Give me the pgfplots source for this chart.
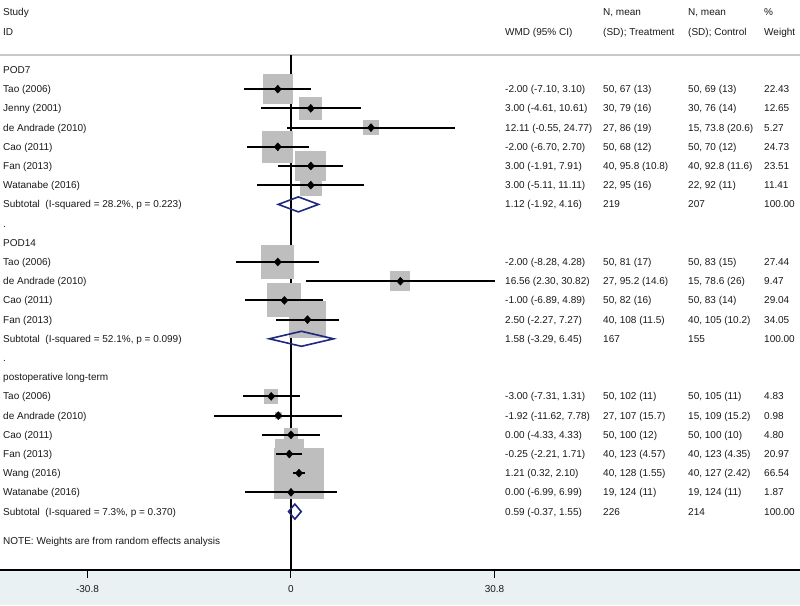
\documentclass[border=0pt]{standalone}
\usepackage{pgfplots}
\pgfplotsset{compat=1.18}
\usepackage{pgfplotstable}
\usepackage{fontspec}
\setmainfont{Liberation Sans}
\definecolor{boxgray}{RGB}{190,190,190}
\definecolor{dnavy}{RGB}{30,40,125}
\definecolor{band}{RGB}{233,241,243}
\definecolor{txt}{RGB}{25,25,25}
\definecolor{hline}{RGB}{200,200,200}

% x = WMD, lo/hi = 95% CI, y = -row position (px), w = % weight
\pgfplotstableread{
x      lo      hi     y       w
-2.00  -7.10   3.10   -89.2   22.43
3.00   -4.61   10.61  -108.4  12.65
12.11  -0.55   24.77  -127.6  5.27
-2.00  -6.70   2.70   -146.8  24.73
3.00   -1.91   7.91   -166.0  23.51
3.00   -5.11   11.11  -185.2  11.41
-2.00  -8.28   4.28   -262.0  27.44
16.56  2.30    30.82  -281.2  9.47
-1.00  -6.89   4.89   -300.4  29.04
2.50   -2.27   7.27   -319.6  34.05
-3.00  -7.31   1.31   -396.4  4.83
-1.92  -11.62  7.78   -415.6  0.98
0.00   -4.33   4.33   -434.8  4.80
-0.25  -2.21   1.71   -454.0  20.97
1.21   0.32    2.10   -473.2  66.54
0.00   -6.99   6.99   -492.4  1.87
}\studies

\newcommand\rowtext[6]{%
  \node[anchor=base west,inner sep=0pt,text=txt] at (3pt,{(566.4-#1)*1pt}) {#2};
  \node[anchor=base west,inner sep=0pt,text=txt] at (505pt,{(566.4-#1)*1pt}) {#3};
  \node[anchor=base west,inner sep=0pt,text=txt] at (603pt,{(566.4-#1)*1pt}) {#4};
  \node[anchor=base west,inner sep=0pt,text=txt] at (688pt,{(566.4-#1)*1pt}) {#5};
  \node[anchor=base west,inner sep=0pt,text=txt] at (764pt,{(566.4-#1)*1pt}) {#6};
}

\begin{document}
\begin{tikzpicture}[font=\fontsize{10}{12}\selectfont]
% background band below the axis line
\fill[band] (0pt,-0.6pt) rectangle (800pt,-35pt);
\begin{axis}[
  width=800pt, height=570pt, scale only axis,
  xmin=-44.04, xmax=77.04, ymin=-570, ymax=0,
  axis x line*=bottom, axis y line=none,
  axis line style={-, line width=1.2pt, black},
  xtick={-30.8,0,30.8}, xticklabels={-30.8,0,30.8},
  tick align=outside, major tick length=8pt,
  every tick/.style={black, line width=1pt},
  xticklabel style={font=\fontsize{10}{12}\selectfont, text=txt, yshift=-4pt},
  clip=false, clip marker paths=true,
]
% header separator
\addplot[hline, line width=1.4pt] coordinates {(-44.04,-55) (77.04,-55)};
% null line (drawn beneath the boxes)
\addplot[black, line width=1.3pt] coordinates {(0,-55) (0,-570)};
% weight boxes (side proportional to sqrt of weight)
\addplot[scatter, only marks, mark=square*,
  scatter/use mapped color={draw=boxgray, fill=boxgray, line width=0pt},
  visualization depends on={3.06*sqrt(\thisrow{w}) \as \boxsz},
  scatter/@pre marker code/.append style={/tikz/mark size=\boxsz}]
  table[x=x, y=y]{\studies};
% confidence intervals
\addplot[draw=none, mark=none,
  error bars/.cd, x dir=both, x explicit, error mark=none,
  error bar style={line width=1.9pt, black}]
  table[x=x, y=y, x error plus expr=\thisrow{hi}-\thisrow{x}, x error minus expr=\thisrow{x}-\thisrow{lo}]{\studies};
% point estimates
\addplot[only marks, mark=diamond*, mark size=4, black, mark options={xscale=1.2}] table[x=x, y=y]{\studies};
% subtotal diamonds
\addplot[dnavy, line width=1.6pt, line join=miter] coordinates {(-1.92,-204.4) (1.12,-196.9) (4.16,-204.4) (1.12,-211.9)} -- cycle;
\addplot[dnavy, line width=1.6pt, line join=miter] coordinates {(-3.29,-338.8) (1.58,-331.3) (6.45,-338.8) (1.58,-346.3)} -- cycle;
\addplot[dnavy, line width=1.6pt, line join=miter] coordinates {(-0.37,-511.6) (0.59,-504.1) (1.55,-511.6) (0.59,-519.1)} -- cycle;
\end{axis}

% header
\rowtext{12}{Study}{}{N, mean}{N, mean}{\%}
\rowtext{31.5}{ID}{WMD (95\% CI)}{(SD); Treatment}{(SD); Control}{Weight}
% POD7
\rowtext{70}{POD7}{}{}{}{}
\rowtext{89.2}{Tao (2006)}{-2.00 (-7.10, 3.10)}{50, 67 (13)}{50, 69 (13)}{22.43}
\rowtext{108.4}{Jenny (2001)}{3.00 (-4.61, 10.61)}{30, 79 (16)}{30, 76 (14)}{12.65}
\rowtext{127.6}{de Andrade (2010)}{12.11 (-0.55, 24.77)}{27, 86 (19)}{15, 73.8 (20.6)}{5.27}
\rowtext{146.8}{Cao (2011)}{-2.00 (-6.70, 2.70)}{50, 68 (12)}{50, 70 (12)}{24.73}
\rowtext{166.0}{Fan (2013)}{3.00 (-1.91, 7.91)}{40, 95.8 (10.8)}{40, 92.8 (11.6)}{23.51}
\rowtext{185.2}{Watanabe (2016)}{3.00 (-5.11, 11.11)}{22, 95 (16)}{22, 92 (11)}{11.41}
\rowtext{204.4}{Subtotal\ \ (I-squared = 28.2\%, p = 0.223)}{1.12 (-1.92, 4.16)}{219}{207}{100.00}
\rowtext{223.6}{.}{}{}{}{}
% POD14
\rowtext{242.8}{POD14}{}{}{}{}
\rowtext{262.0}{Tao (2006)}{-2.00 (-8.28, 4.28)}{50, 81 (17)}{50, 83 (15)}{27.44}
\rowtext{281.2}{de Andrade (2010)}{16.56 (2.30, 30.82)}{27, 95.2 (14.6)}{15, 78.6 (26)}{9.47}
\rowtext{300.4}{Cao (2011)}{-1.00 (-6.89, 4.89)}{50, 82 (16)}{50, 83 (14)}{29.04}
\rowtext{319.6}{Fan (2013)}{2.50 (-2.27, 7.27)}{40, 108 (11.5)}{40, 105 (10.2)}{34.05}
\rowtext{338.8}{Subtotal\ \ (I-squared = 52.1\%, p = 0.099)}{1.58 (-3.29, 6.45)}{167}{155}{100.00}
\rowtext{358.0}{.}{}{}{}{}
% postoperative long-term
\rowtext{377.2}{postoperative long-term}{}{}{}{}
\rowtext{396.4}{Tao (2006)}{-3.00 (-7.31, 1.31)}{50, 102 (11)}{50, 105 (11)}{4.83}
\rowtext{415.6}{de Andrade (2010)}{-1.92 (-11.62, 7.78)}{27, 107 (15.7)}{15, 109 (15.2)}{0.98}
\rowtext{434.8}{Cao (2011)}{0.00 (-4.33, 4.33)}{50, 100 (12)}{50, 100 (10)}{4.80}
\rowtext{454.0}{Fan (2013)}{-0.25 (-2.21, 1.71)}{40, 123 (4.57)}{40, 123 (4.35)}{20.97}
\rowtext{473.2}{Wang (2016)}{1.21 (0.32, 2.10)}{40, 128 (1.55)}{40, 127 (2.42)}{66.54}
\rowtext{492.4}{Watanabe (2016)}{0.00 (-6.99, 6.99)}{19, 124 (11)}{19, 124 (11)}{1.87}
\rowtext{511.6}{Subtotal\ \ (I-squared = 7.3\%, p = 0.370)}{0.59 (-0.37, 1.55)}{226}{214}{100.00}
\rowtext{541}{NOTE: Weights are from random effects analysis}{}{}{}{}
\pgfresetboundingbox
\useasboundingbox (0pt,-35pt) rectangle (800pt,570pt);
\end{tikzpicture}
\end{document}
